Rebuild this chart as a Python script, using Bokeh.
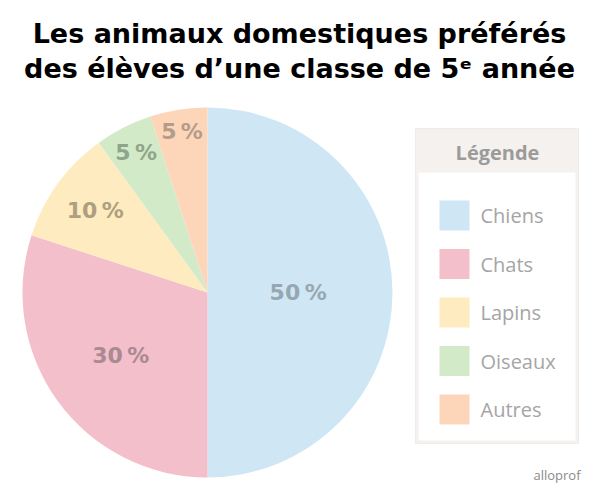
import math
from bokeh.plotting import figure
from bokeh.models import Range1d, ColumnDataSource
from bokeh.core.properties import value
from bokeh.embed import file_html
from bokeh.resources import INLINE

# ---- data ----
categories = ["Chiens", "Chats", "Lapins", "Oiseaux", "Autres"]
shares = [50, 30, 10, 5, 5]
slice_colors = ["#cfe7f5", "#f3bfcb", "#feebbf", "#d3eac8", "#fdd6ba"]
label_colors = ["#97a7b1", "#a98a92", "#ad9f7f", "#8fa58b", "#b39c8a"]
title_lines = ["Les animaux domestiques préférés", "des élèves d’une classe de 5ᵉ année"]
legend_title = "Légende"

# ---- layout ----
W, H = 600, 499
cx, cy, R = 207, 207, 185
label_r = [0.49, 0.58, 0.75, 0.85, 0.88]

p = figure(width=W, height=H, output_backend="svg", toolbar_location=None,
           x_range=Range1d(0, W), y_range=Range1d(0, H), min_border=0)
p.axis.visible = False
p.grid.visible = False
p.outline_line_color = None
p.background_fill_color = "white"
p.border_fill_color = "white"

total = sum(shares)
starts, ends, lx, ly, ltxt = [], [], [], [], []
cum = 0
for i, s in enumerate(shares):
    a0 = math.pi / 2 - 2 * math.pi * cum / total
    cum += s
    a1 = math.pi / 2 - 2 * math.pi * cum / total
    starts.append(a0)
    ends.append(a1)
    mid = (a0 + a1) / 2
    lx.append(cx + label_r[i] * R * math.cos(mid))
    ly.append(cy + label_r[i] * R * math.sin(mid))
    ltxt.append(f"{s}\u202f%")

src = ColumnDataSource(dict(start=starts, end=ends, color=slice_colors,
                            lx=lx, ly=ly, txt=ltxt, lc=label_colors))
p.wedge(x=cx, y=cy, radius=R, start_angle="start", end_angle="end",
        direction="clock", fill_color="color", line_color=None, source=src)
p.text(x="lx", y="ly", text="txt", text_color="lc", source=src,
       text_font=value("DejaVu Sans"), text_font_style="bold", text_font_size="22px",
       text_align="center", text_baseline="middle")

# title
p.text(x=[299, 299], y=[H - 33, H - 68], text=title_lines, text_color="black",
       text_font=value("DejaVu Sans"), text_font_style="bold", text_font_size="27px",
       text_align="center", text_baseline="middle")

# legend box
p.quad(left=415, right=578, top=H - 128, bottom=H - 443,
       fill_color="#f4f1ee", line_color="#efebe7", line_width=1)
p.quad(left=418, right=575, top=H - 172, bottom=H - 440,
       fill_color="white", line_color=None)
p.text(x=[497], y=[H - 152], text=[legend_title], text_color="#9b9b9b",
       text_font=value("Open Sans"), text_font_style="bold", text_font_size="20px",
       text_align="center", text_baseline="middle")

row_y = [H - (215 + 48.5 * i) for i in range(len(categories))]
p.rect(x=[454] * len(categories), y=row_y, width=30, height=30,
       fill_color=slice_colors, line_color=None)
p.text(x=[480] * len(categories), y=row_y, text=categories, text_color="#a5a5a5",
       text_font=value("Open Sans"), text_font_size="20px",
       text_align="left", text_baseline="middle")

# credit
p.text(x=[580], y=[H - 474], text=["alloprof"], text_color="#8a8a8a",
       text_font=value("Open Sans"), text_font_size="13px",
       text_align="right", text_baseline="middle")

open("out.html", "w").write(file_html(p, INLINE))
